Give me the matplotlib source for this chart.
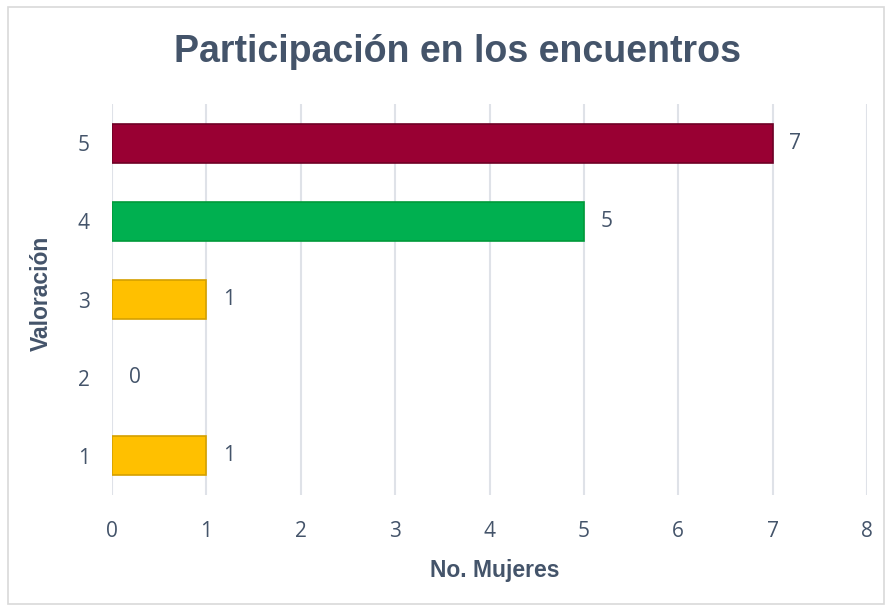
import matplotlib.pyplot as plt
from matplotlib.patches import Rectangle

# Data
valoracion = ["1", "2", "3", "4", "5"]
mujeres = [1, 0, 1, 5, 7]
bar_colors = ["#FFC000", "#FFC000", "#FFC000", "#00B050", "#990033"]
edge_colors = ["#D4A000", "#D4A000", "#D4A000", "#009A3A", "#6E0025"]
x_ticks = [0, 1, 2, 3, 4, 5, 6, 7, 8]

text_color = "#44546A"
grid_color = "#DFE2E8"

fig = plt.figure(figsize=(8.91, 6.09), dpi=100)
ax = fig.add_axes([112 / 891, 1 - 495 / 609, (867 - 112) / 891, (495 - 104) / 609])

# outer chart border
fig.patches.append(Rectangle((8 / 891, 1 - 604 / 609), 876 / 891, 597 / 609,
                             transform=fig.transFigure, fill=False,
                             edgecolor="#D9D9D9", linewidth=1.2))

ypos = list(range(1, len(valoracion) + 1))
widths = [1.2 if v > 0 else 0 for v in mujeres]
ax.barh(ypos, mujeres, height=0.5, color=bar_colors,
        edgecolor=edge_colors, linewidth=widths, zorder=3)

for y, v in zip(ypos, mujeres):
    ax.annotate(str(v), xy=(v, y), xytext=(12, 0), textcoords="offset points",
                ha="left", va="center", fontsize=15, color=text_color,
                family="Open Sans")

ax.set_xlim(0, 8)
ax.set_ylim(0.5, 5.5)
ax.set_xticks(x_ticks)
ax.set_yticks(ypos)
ax.set_yticklabels(valoracion)
ax.grid(axis="x", color=grid_color, linewidth=1.5, zorder=0)
ax.set_axisbelow(True)
for s in ax.spines.values():
    s.set_visible(False)
ax.tick_params(axis="both", length=0, labelsize=15, labelcolor=text_color)
ax.tick_params(axis="x", pad=19)
ax.tick_params(axis="y", pad=16)
for lbl in ax.get_xticklabels() + ax.get_yticklabels():
    lbl.set_family("Open Sans")

ax.set_xlabel("No. Mujeres", fontsize=16.5, fontweight="bold", color=text_color,
              family="Liberation Sans")
ax.set_ylabel("Valoración", fontsize=16.5, fontweight="bold", color=text_color,
              family="Liberation Sans")
ax.xaxis.set_label_coords(0.507, -0.194)
ax.yaxis.set_label_coords(-0.094, 0.515)
ax.xaxis.label.set_va("center")
ax.yaxis.label.set_va("center")

fig.text(457 / 891, 1 - 52 / 609, "Participación en los encuentros",
         ha="center", va="center", fontsize=27, fontweight="bold",
         color=text_color, family="Liberation Sans")

fig.savefig("out.png", dpi=100)
